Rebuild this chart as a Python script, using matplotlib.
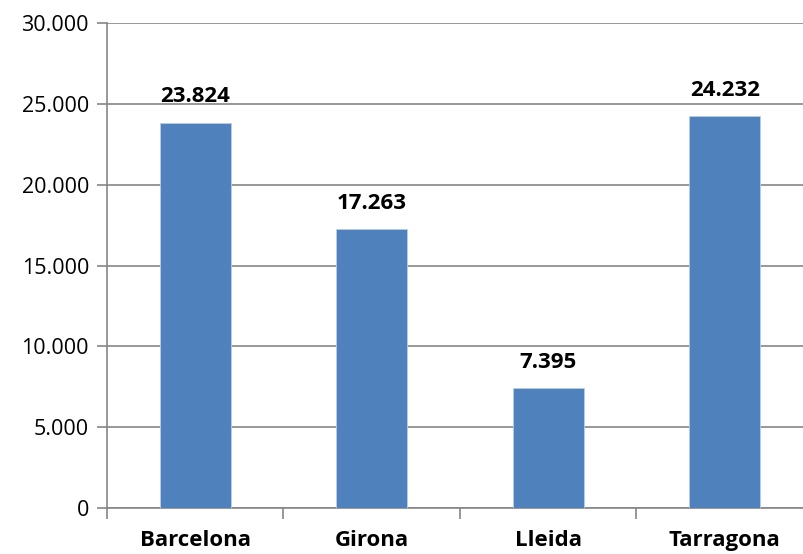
import matplotlib.pyplot as plt
from matplotlib.ticker import FuncFormatter

categorias = ["Barcelona", "Girona", "Lleida", "Tarragona"]
valores = [23824, 17263, 7395, 24232]
yticks = [0, 5000, 10000, 15000, 20000, 25000, 30000]

plt.rcParams['font.family'] = ['Open Sans', 'DejaVu Sans']

fig = plt.figure(figsize=(8.04, 5.54), dpi=100)
ax = fig.add_axes([107 / 804, 1 - 508 / 554, 706 / 804, (508 - 23) / 554])

x = range(len(categorias))
ax.bar(x, valores, width=0.405, color='#4F81BD', edgecolor='#B9CDE5', linewidth=0.6, zorder=3)

def miles(v):
    return f"{v:,.0f}".replace(",", ".")

for xi, v in zip(x, valores):
    ax.text(xi, v + 950, miles(v), ha='center', va='bottom',
            fontsize=16, fontweight='bold', color='black')

ax.set_xlim(-0.5, len(categorias) - 0.5)
ax.set_ylim(0, 30000)
ax.set_yticks(yticks)
ax.yaxis.set_major_formatter(FuncFormatter(lambda v, p: miles(v)))
ax.yaxis.grid(True, color='#868686', linewidth=1.2, zorder=0)

ax.set_xticks(list(x))
ax.set_xticklabels(categorias, fontsize=16, fontweight='bold')
ax.set_xticks([i + 0.5 for i in range(len(categorias) - 1)] + [-0.5], minor=True)
ax.tick_params(axis='x', which='major', length=0, pad=16)
ax.tick_params(axis='x', which='minor', length=8, color='#868686', width=1.2)
ax.tick_params(axis='y', length=7, color='#868686', width=1.2, labelsize=15.5, pad=6)

for s in ['top', 'right']:
    ax.spines[s].set_visible(False)
for s in ['left', 'bottom']:
    ax.spines[s].set_color('#868686')
    ax.spines[s].set_linewidth(1.2)

fig.savefig('out.png', dpi=100)
